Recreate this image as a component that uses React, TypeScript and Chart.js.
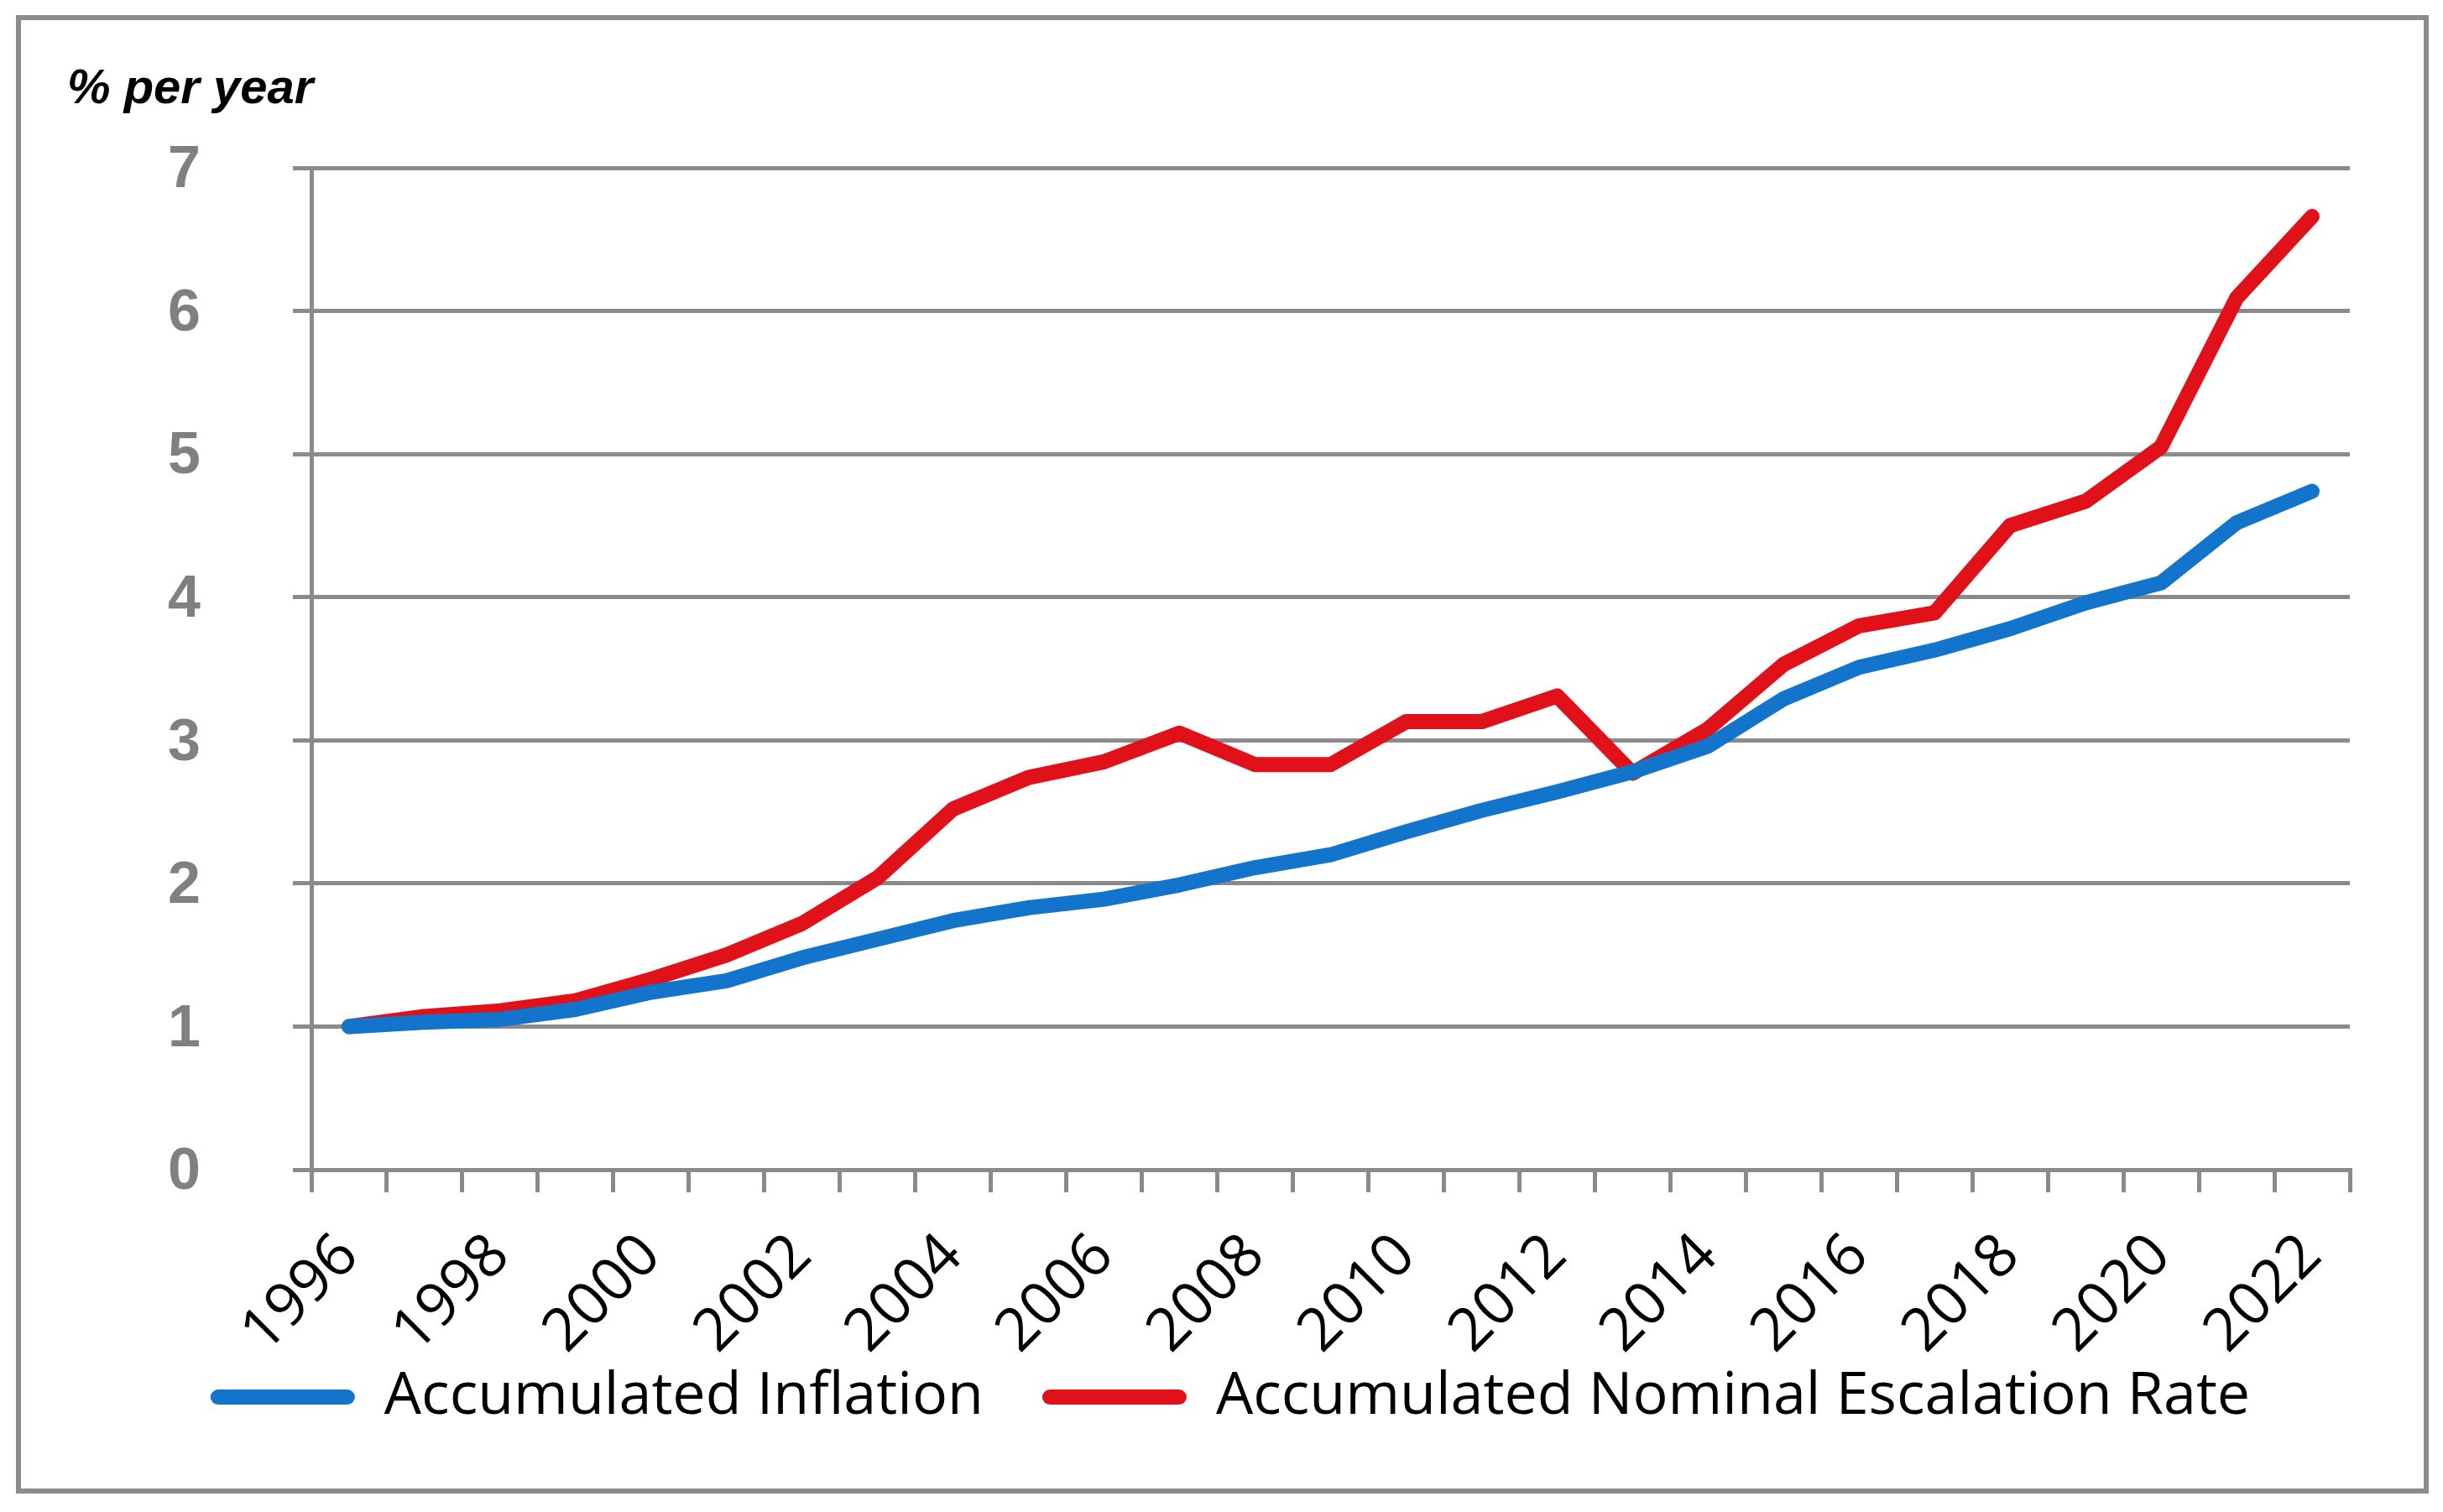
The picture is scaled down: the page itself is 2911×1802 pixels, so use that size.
import React, { useEffect, useRef } from "react";
import { Chart, registerables } from "chart.js";

Chart.register(...registerables);

const years = [
  "1996", "1997", "1998", "1999", "2000", "2001", "2002", "2003", "2004",
  "2005", "2006", "2007", "2008", "2009", "2010", "2011", "2012", "2013",
  "2014", "2015", "2016", "2017", "2018", "2019", "2020", "2021", "2022",
];

const accumulatedInflation = [
  1.0, 1.03, 1.05, 1.12, 1.24, 1.32, 1.48, 1.61, 1.74, 1.83, 1.89, 1.99, 2.11,
  2.2, 2.36, 2.51, 2.64, 2.78, 2.96, 3.29, 3.51, 3.63, 3.78, 3.96, 4.1, 4.52,
  4.74,
];

const accumulatedEscalation = [
  1.0, 1.07, 1.11, 1.18, 1.33, 1.5, 1.72, 2.04, 2.52, 2.74, 2.85, 3.05, 2.83,
  2.83, 3.13, 3.13, 3.31, 2.77, 3.08, 3.53, 3.8, 3.89, 4.5, 4.67, 5.05, 6.09,
  6.66,
];

const yMin = 0;
const yMax = 7;
const yStep = 1;

const seriesLabels = ["Accumulated Inflation", "Accumulated Nominal Escalation Rate"];
const titleText = "% per year";

const BLUE = "#1374CC";
const RED = "#E1111A";
const GRID = "#8A8A8A";

export default function App() {
  const ref = useRef<HTMLCanvasElement | null>(null);

  useEffect(() => {
    if (!ref.current) return;
    const legendPadding = 70;
    const chart = new Chart(ref.current, {
      type: "line",
      data: {
        labels: years,
        datasets: [
          {
            label: seriesLabels[0],
            data: accumulatedInflation,
            borderColor: BLUE,
            backgroundColor: BLUE,
            borderWidth: 18,
            pointRadius: 0,
            tension: 0,
            borderCapStyle: "round",
            borderJoinStyle: "round",
          },
          {
            label: seriesLabels[1],
            data: accumulatedEscalation,
            borderColor: RED,
            backgroundColor: RED,
            borderWidth: 18,
            pointRadius: 0,
            tension: 0,
            borderCapStyle: "round",
            borderJoinStyle: "round",
          },
        ],
      },
      options: {
        responsive: false,
        animation: false,
        devicePixelRatio: 1,
        events: [],
        layout: { padding: { left: 55, right: 36, top: 0, bottom: 64 } },
        plugins: {
          title: {
            display: true,
            text: titleText,
            align: "start",
            color: "#000",
            font: {
              family: "'Liberation Sans', Arial, sans-serif",
              size: 58,
              weight: "bold",
              style: "italic",
              lineHeight: 1.2,
            },
            padding: { top: 48, bottom: 58.4 },
          },
          legend: {
            position: "bottom",
            labels: {
              boxWidth: 172,
              boxHeight: 18,
              useBorderRadius: true,
              borderRadius: 9,
              color: "#000",
              padding: legendPadding,
              font: { family: "'Open Sans', sans-serif", size: 70 },
              generateLabels: (c: any) => {
                const items = Chart.defaults.plugins.legend.labels.generateLabels(c);
                return items.map((it: any) => ({ ...it, lineWidth: 0 }));
              },
            },
          },
          tooltip: { enabled: false },
        },
        scales: {
          x: {
            offset: true,
            grid: {
              display: true,
              drawOnChartArea: false,
              drawTicks: true,
              tickLength: 27,
              offset: true,
              color: GRID,
              lineWidth: 5,
            },
            border: { display: true, color: GRID, width: 5 },
            ticks: {
              autoSkip: false,
              minRotation: 45,
              maxRotation: 45,
              padding: 34,
              color: "#000",
              font: { family: "'Open Sans', sans-serif", size: 71 },
              callback: (_v: any, i: number) => (i % 2 === 0 ? years[i] : ""),
            },
            afterFit: (s: any) => {
              s.height = 236 - legendPadding;
              // let the rotated year labels extend below the axis box without clipping
              s._computeLabelArea = () => undefined;
            },
          },
          y: {
            min: yMin,
            max: yMax,
            ticks: {
              stepSize: yStep,
              color: "#808080",
              padding: 110,
              labelOffset: 4,
              font: { family: "'Liberation Sans', Arial, sans-serif", size: 70, weight: "bold" },
            },
            grid: { color: GRID, lineWidth: 5, drawTicks: true, tickLength: 22 },
            border: { display: true, color: GRID, width: 5 },
            afterFit: (s: any) => {
              s.width = 346 - 55;
            },
          },
          y2: {
            type: "linear",
            position: "right",
            display: true,
            grid: { display: false, drawTicks: false },
            border: { display: false },
            ticks: { display: false },
            afterFit: (s: any) => {
              s.width = 52;
            },
          },
        },
      } as any,
    });
    return () => chart.destroy();
  }, []);

  return (
    <div
      style={{
        position: "absolute",
        left: 19,
        top: 18,
        width: 2875,
        height: 1762,
        border: "6px solid #8C8C8C",
        boxSizing: "border-box",
        background: "#fff",
      }}
    >
      <canvas ref={ref} width={2863} height={1750} style={{ display: "block" }} />
    </div>
  );
}
